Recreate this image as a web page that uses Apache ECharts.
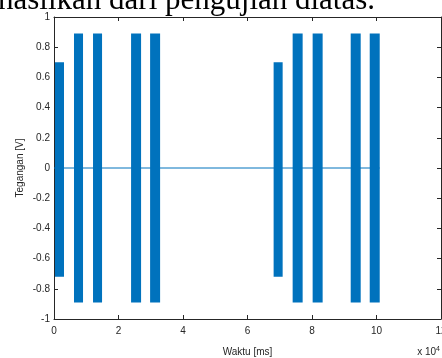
<!DOCTYPE html>
<html><head><meta charset="utf-8">
<script src="https://cdn.jsdelivr.net/npm/echarts@6/dist/echarts.min.js"></script>
<style>html,body{margin:0;padding:0;background:#fff}#c{width:442px;height:358px}</style>
</head><body><div id="c"></div>
<script>
// Burst envelopes of the measured voltage signal (time in ms, voltage in V)
const burstStart = [300, 6200, 12100, 23900, 29800, 68100, 74000, 80200, 92000, 97900];
const burstEnd   = [3100, 9000, 14900, 27000, 32900, 70900, 77100, 83300, 95100, 101000];
const burstMax   = [0.70, 0.89, 0.89, 0.89, 0.89, 0.70, 0.89, 0.89, 0.89, 0.89];
const burstMin   = [-0.72, -0.89, -0.89, -0.89, -0.89, -0.72, -0.89, -0.89, -0.89, -0.89];
// idle signal between bursts
const idleX = [0, 101000];
const idleY = [0, 0];
const xTicks = [0, 2, 4, 6, 8, 10, 12];
const yTicks = [-1, -0.8, -0.6, -0.4, -0.2, 0, 0.2, 0.4, 0.6, 0.8, 1];

const chart = echarts.init(document.getElementById('c'), null, {renderer: 'canvas'});
const C = '#0072BD', AX = '#262626';
const lblFont = {fontFamily: 'Liberation Sans, Arial', fontSize: 10, color: AX};
const bursts = burstStart.map((s, i) => [s, burstEnd[i], burstMin[i], burstMax[i]]);
const line = {show: true, onZero: false, lineStyle: {color: AX, width: 1}};
const tick = {show: true, inside: true, length: 4, lineStyle: {color: AX}};

chart.setOption({
  animation: false,
  backgroundColor: '#fff',
  grid: {left: 54, right: 1, top: 17, bottom: 39, containLabel: false, outerBoundsMode: 'none'},
  graphic: [{
    type: 'text', left: -2, top: -15, silent: true,
    style: {text: 'hasilkan dari pengujian diatas.', font: '31px "Liberation Serif", "Times New Roman", serif', fill: '#000'}
  }, {
    type: 'text', right: 2, top: 346, silent: true,
    style: {rich: {a: {fontFamily: 'Liberation Sans', fontSize: 10, fill: AX}, b: {fontFamily: 'Liberation Sans', fontSize: 7, fill: AX, verticalAlign: 'top', padding: [0,0,6,0]}}, text: '{a|x 10}{b|4}'}
  }],
  xAxis: [{
    type: 'value', min: 0, max: 120000, interval: 20000,
    name: 'Waktu [ms]', nameLocation: 'middle', nameGap: 28, nameMoveOverlap: false,
    nameTextStyle: {fontFamily: 'Liberation Sans', fontSize: 10, color: AX},
    axisLine: line, axisTick: tick,
    axisLabel: Object.assign({margin: 7, formatter: v => String(xTicks[Math.round(v / 20000)])}, lblFont),
    splitLine: {show: false}
  }, {
    type: 'value', position: 'top', min: 0, max: 120000, interval: 20000,
    axisLine: line, axisTick: tick,
    axisLabel: {show: false}, splitLine: {show: false}
  }],
  yAxis: [{
    type: 'value', min: -1, max: 1, interval: 0.2,
    name: 'Tegangan [V]', nameLocation: 'middle', nameGap: 29, nameMoveOverlap: false,
    nameTextStyle: {fontFamily: 'Liberation Sans', fontSize: 10, color: AX},
    axisLine: line, axisTick: tick,
    axisLabel: Object.assign({margin: 4, formatter: v => {
      const t = yTicks.find(k => Math.abs(k - v) < 1e-6);
      return t === undefined ? '' : String(t);
    }}, lblFont),
    splitLine: {show: false}
  }, {
    type: 'value', position: 'right', min: -1, max: 1, interval: 0.2,
    axisLine: line, axisTick: tick,
    axisLabel: {show: false}, splitLine: {show: false}
  }],
  series: [{
    type: 'line', xAxisIndex: 0, yAxisIndex: 0, showSymbol: false, silent: true,
    data: idleX.map((x, i) => [x, idleY[i]]),
    lineStyle: {color: C, width: 1}
  }, {
    type: 'custom', xAxisIndex: 0, yAxisIndex: 0, silent: true,
    data: bursts,
    encode: {x: [0, 1], y: [2, 3]},
    renderItem: (params, api) => {
      const p0 = api.coord([api.value(0), api.value(3)]);
      const p1 = api.coord([api.value(1), api.value(2)]);
      return {type: 'rect', shape: {x: p0[0], y: p0[1], width: p1[0] - p0[0], height: p1[1] - p0[1]}, style: {fill: C}};
    }
  }]
});
</script></body></html>
